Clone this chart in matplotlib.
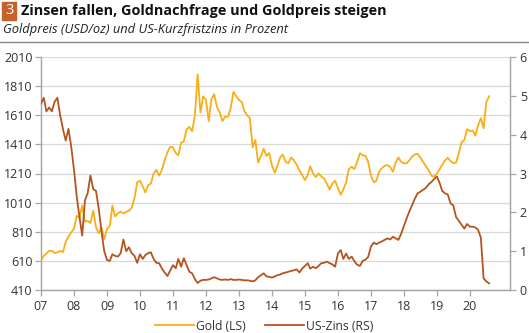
import numpy as np
import pandas as pd
import matplotlib
matplotlib.use("Agg")
import matplotlib.pyplot as plt
from matplotlib.patches import Rectangle
from matplotlib.lines import Line2D

plt.rcParams['font.family'] = ['Open Sans', 'DejaVu Sans']

title = "Zinsen fallen, Goldnachfrage und Goldpreis steigen"
subtitle = "Goldpreis (USD/oz) und US-Kurzfristzins in Prozent"

# monthly values, Jan 2007 .. Aug 2020
gold = [
    615, 645, 660, 680, 678, 665, 668, 678, 670, 740, 776, 805,              # 2007
    830, 920, 905, 990, 880, 885, 870, 955, 840, 800, 840, 760,              # 2008
    830, 850, 990, 915, 936, 948, 936, 945, 955, 975, 1040, 1150,            # 2009
    1160, 1120, 1080, 1130, 1140, 1210, 1235, 1195, 1235, 1300, 1355, 1394,  # 2010
    1390, 1350, 1335, 1422, 1430, 1513, 1530, 1500, 1610, 1890, 1630, 1740,  # 2011
    1715, 1570, 1720, 1755, 1670, 1630, 1570, 1600, 1600, 1660, 1770, 1740,  # 2012
    1715, 1700, 1640, 1610, 1590, 1390, 1440, 1285, 1330, 1380, 1330, 1350,  # 2013
    1265, 1215, 1260, 1320, 1340, 1290, 1280, 1320, 1300, 1270, 1230, 1200,  # 2014
    1165, 1200, 1260, 1210, 1185, 1210, 1190, 1175, 1140, 1100, 1142, 1160,  # 2015
    1110, 1065, 1100, 1150, 1240, 1257, 1240, 1290, 1349, 1335, 1330, 1290,  # 2016
    1195, 1150, 1160, 1222, 1246, 1262, 1268, 1255, 1222, 1285, 1320, 1290,  # 2017
    1280, 1280, 1300, 1326, 1340, 1345, 1320, 1290, 1260, 1234, 1195, 1188,  # 2018
    1210, 1240, 1270, 1300, 1318, 1295, 1282, 1285, 1350, 1425, 1440, 1515,  # 2019
    1500, 1505, 1470, 1540, 1590, 1520, 1700, 1740,                          # 2020
]
zins = [
    4.80, 4.95, 4.60, 4.70, 4.60, 4.85, 4.95, 4.50, 4.15, 3.85, 4.15, 3.70,  # 2007
    3.10, 2.40, 1.90, 1.40, 2.30, 2.50, 2.95, 2.60, 2.55, 2.10, 1.50, 1.00,  # 2008
    0.77, 0.75, 0.92, 0.88, 0.86, 0.95, 1.30, 1.00, 1.10, 0.95, 0.88, 0.70,  # 2009
    0.92, 0.80, 0.90, 0.95, 0.97, 0.80, 0.70, 0.69, 0.55, 0.45, 0.36, 0.50,  # 2010
    0.64, 0.56, 0.80, 0.60, 0.82, 0.64, 0.47, 0.43, 0.28, 0.18, 0.24, 0.26,  # 2011
    0.26, 0.27, 0.30, 0.33, 0.30, 0.27, 0.26, 0.27, 0.26, 0.28, 0.26, 0.26,  # 2012
    0.27, 0.26, 0.25, 0.25, 0.24, 0.22, 0.25, 0.33, 0.38, 0.43, 0.35, 0.34,  # 2013
    0.32, 0.35, 0.38, 0.40, 0.43, 0.45, 0.47, 0.49, 0.51, 0.53, 0.45, 0.55,  # 2014
    0.62, 0.69, 0.55, 0.60, 0.56, 0.62, 0.69, 0.70, 0.73, 0.69, 0.66, 0.60,  # 2015
    0.94, 1.03, 0.80, 0.94, 0.80, 0.86, 0.74, 0.65, 0.62, 0.75, 0.78, 0.85,  # 2016
    1.12, 1.22, 1.18, 1.22, 1.25, 1.29, 1.33, 1.30, 1.37, 1.33, 1.29, 1.45,  # 2017
    1.65, 1.85, 2.02, 2.18, 2.35, 2.49, 2.53, 2.58, 2.63, 2.72, 2.78, 2.86,  # 2018
    2.92, 2.75, 2.55, 2.49, 2.46, 2.23, 2.18, 1.88, 1.78, 1.68, 1.58, 1.70,  # 2019
    1.63, 1.63, 1.61, 1.55, 1.35, 0.30, 0.22, 0.17,                          # 2020
]
dates = pd.date_range("2007-01-01", periods=len(gold), freq="MS")

years = list(range(2007, 2021))
year_labels = ["%02d" % (y % 100) for y in years]
gold_ticks = list(range(410, 2011, 200))
zins_ticks = list(range(0, 7))

c_gold = "#f9ae17"
c_zins = "#b5541f"
c_axis = "#a6a6a6"
c_text = "#333333"

fig = plt.figure(figsize=(5.29, 3.33), dpi=100)
ax = fig.add_axes([41 / 529, 1 - 290 / 333, (510 - 41) / 529, 233 / 333])
ax2 = ax.twinx()

ax.plot(dates, gold, color=c_gold, lw=1.3, zorder=3)
ax2.plot(dates, zins, color=c_zins, lw=1.3, zorder=3)

ax.set_xlim(pd.Timestamp("2007-01-01"), pd.Timestamp("2021-03-20"))
ax.set_ylim(410, 2010)
ax2.set_ylim(0, 6)
ax.set_xticks([pd.Timestamp(y, 1, 1) for y in years])
ax.set_xticklabels(year_labels)
ax.set_yticks(gold_ticks)
ax2.set_yticks(zins_ticks)

ax.yaxis.grid(True, color="#d9d9d9", lw=0.9)
ax.set_axisbelow(True)

for a in (ax, ax2):
    a.spines["top"].set_visible(False)
    for s in ("left", "right", "bottom"):
        a.spines[s].set_color(c_axis)
        a.spines[s].set_linewidth(0.9)
    a.tick_params(direction="out", length=4, width=0.9, color=c_axis,
                  labelcolor=c_text, labelsize=9)
ax.tick_params(axis="x", pad=3)
ax.tick_params(axis="y", pad=2)
ax2.tick_params(axis="y", pad=3)

# header
fig.add_artist(Rectangle((2 / 529, 1 - 20 / 333), 14 / 529, 18 / 333,
                         transform=fig.transFigure, color="#c8602a"))
fig.text(9 / 529, 1 - 11 / 333, "3", color="white", fontsize=10.5,
         ha="center", va="center")
fig.text(21 / 529, 1 - 11 / 333, title, fontsize=10.4, fontweight="bold",
         color="#111111", va="center")
fig.text(3 / 529, 1 - 29 / 333, subtitle, fontsize=9.3, style="italic",
         color="#222222", va="center")
fig.add_artist(Line2D([0, 1], [1 - 42 / 333, 1 - 42 / 333],
                      transform=fig.transFigure, color="#888888", lw=1))

handles = [Line2D([], [], color=c_gold, lw=1.3),
           Line2D([], [], color=c_zins, lw=1.3)]
fig.legend(handles, ["Gold (LS)", "US-Zins (RS)"], loc="center",
           bbox_to_anchor=(0.5, 1 - 326 / 333), ncol=2, frameon=False,
           fontsize=8.7, handlelength=3.2, handletextpad=0.2,
           columnspacing=1.6, labelcolor=c_text)

fig.savefig("out.png", dpi=100)
